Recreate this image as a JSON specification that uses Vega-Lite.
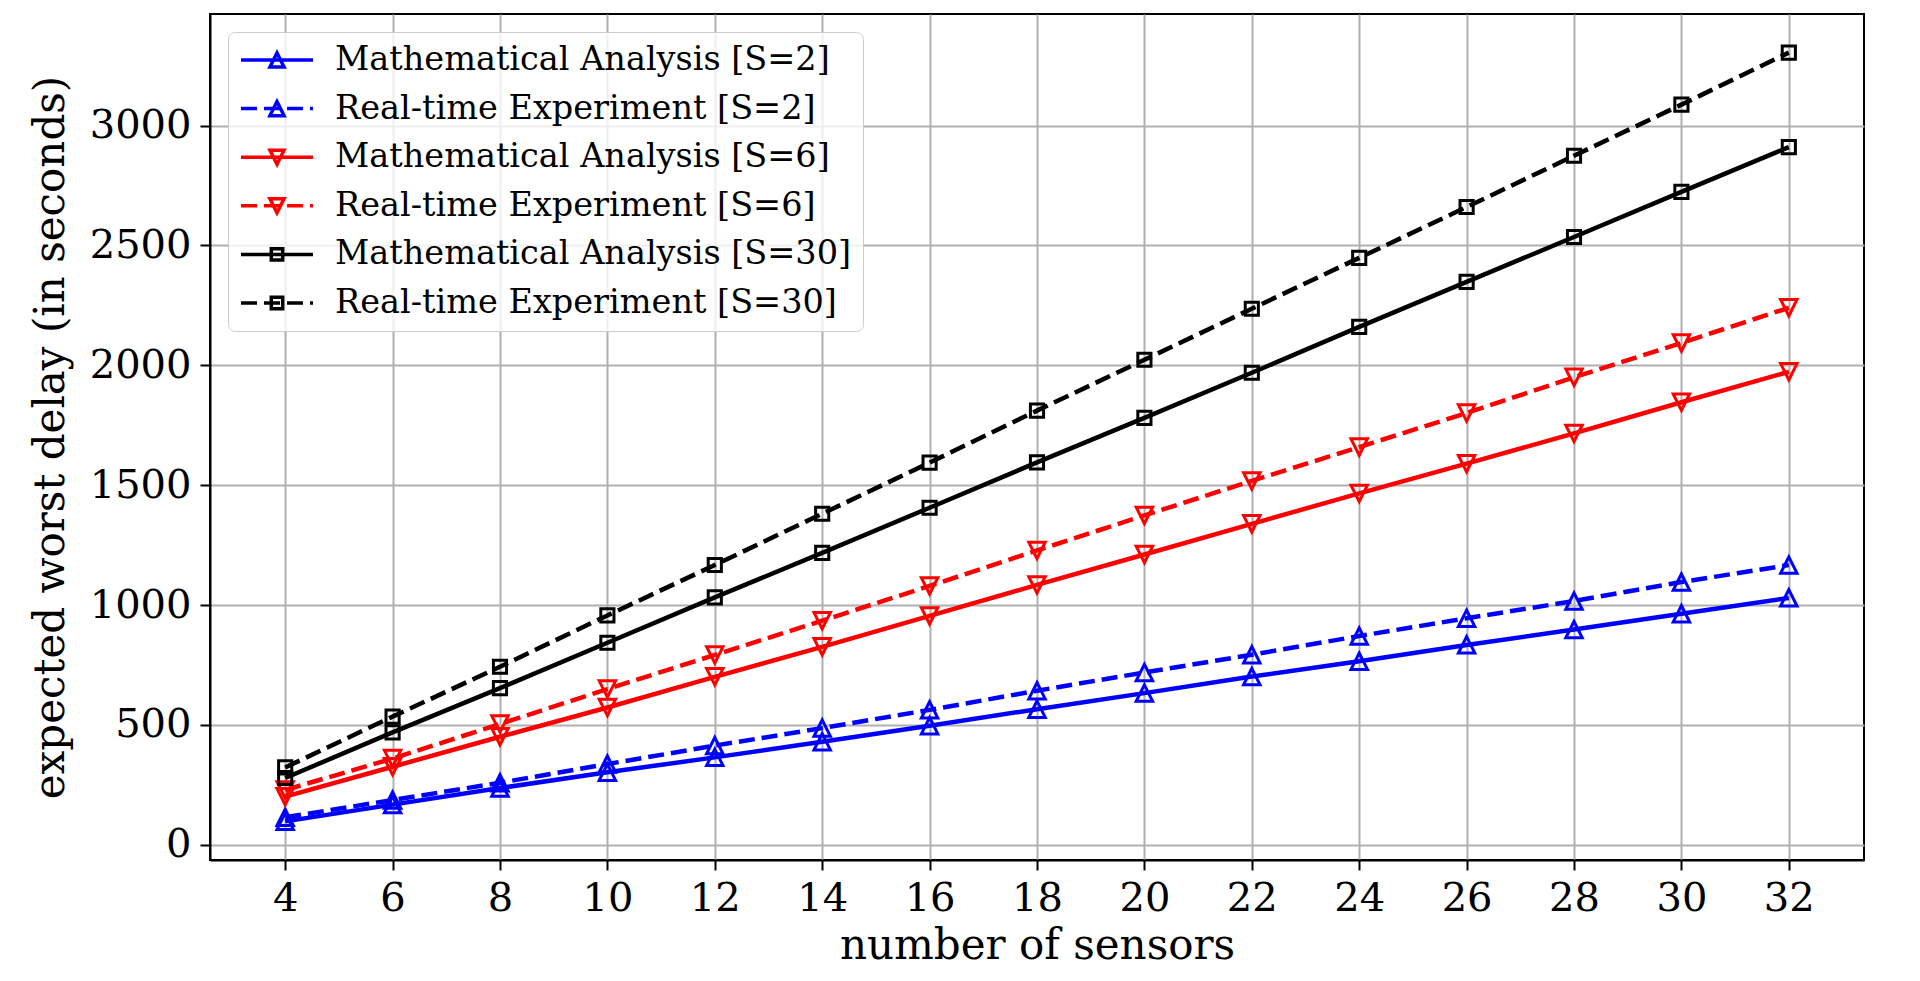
{
  "$schema": "https://vega.github.io/schema/vega-lite/v6.json",
  "autosize": {"type": "none"},
  "width": 1654,
  "height": 846,
  "padding": {"left": 210, "top": 14, "right": 56, "bottom": 121},
  "background": "white",
  "config": {
    "font": "DejaVu Serif",
    "view": {"stroke": "black", "strokeWidth": 2},
    "axis": {
      "labelFont": "DejaVu Serif",
      "labelFontSize": 40,
      "labelColor": "black",
      "titleFont": "DejaVu Serif",
      "titleFontSize": 42,
      "titleFontWeight": "normal",
      "titleColor": "black",
      "domainColor": "black",
      "domainWidth": 2,
      "tickColor": "black",
      "tickWidth": 2,
      "tickSize": 10,
      "gridColor": "#b0b0b0",
      "gridWidth": 2,
      "gridOpacity": 1
    },
    "legend": {
      "orient": "none",
      "legendX": 18,
      "legendY": 18,
      "direction": "vertical",
      "labelFont": "DejaVu Serif",
      "labelFontSize": 33.5,
      "labelColor": "black",
      "labelLimit": 0,
      "labelOffset": 62,
      "symbolSize": 900,
      "symbolStrokeWidth": 3.5,
      "symbolDash": [1, 0],
      "symbolOpacity": 1,
      "symbolFillColor": "transparent",
      "rowPadding": 14.6,
      "padding": 11,
      "fillColor": "rgba(255,255,255,0.8)",
      "strokeColor": "#cccccc",
      "cornerRadius": 7
    }
  },
  "data": {
    "values": [
      {"n": 4, "d": 98, "s": "Mathematical Analysis [S=2]"},
      {"n": 6, "d": 168, "s": "Mathematical Analysis [S=2]"},
      {"n": 8, "d": 237, "s": "Mathematical Analysis [S=2]"},
      {"n": 10, "d": 303, "s": "Mathematical Analysis [S=2]"},
      {"n": 12, "d": 365, "s": "Mathematical Analysis [S=2]"},
      {"n": 14, "d": 430, "s": "Mathematical Analysis [S=2]"},
      {"n": 16, "d": 497, "s": "Mathematical Analysis [S=2]"},
      {"n": 18, "d": 566, "s": "Mathematical Analysis [S=2]"},
      {"n": 20, "d": 633, "s": "Mathematical Analysis [S=2]"},
      {"n": 22, "d": 702, "s": "Mathematical Analysis [S=2]"},
      {"n": 24, "d": 766, "s": "Mathematical Analysis [S=2]"},
      {"n": 26, "d": 834, "s": "Mathematical Analysis [S=2]"},
      {"n": 28, "d": 898, "s": "Mathematical Analysis [S=2]"},
      {"n": 30, "d": 964, "s": "Mathematical Analysis [S=2]"},
      {"n": 32, "d": 1030, "s": "Mathematical Analysis [S=2]"},
      {"n": 4, "d": 115, "s": "Real-time Experiment [S=2]"},
      {"n": 6, "d": 187, "s": "Real-time Experiment [S=2]"},
      {"n": 8, "d": 259, "s": "Real-time Experiment [S=2]"},
      {"n": 10, "d": 337, "s": "Real-time Experiment [S=2]"},
      {"n": 12, "d": 414, "s": "Real-time Experiment [S=2]"},
      {"n": 14, "d": 487, "s": "Real-time Experiment [S=2]"},
      {"n": 16, "d": 563, "s": "Real-time Experiment [S=2]"},
      {"n": 18, "d": 643, "s": "Real-time Experiment [S=2]"},
      {"n": 20, "d": 719, "s": "Real-time Experiment [S=2]"},
      {"n": 22, "d": 793, "s": "Real-time Experiment [S=2]"},
      {"n": 24, "d": 871, "s": "Real-time Experiment [S=2]"},
      {"n": 26, "d": 945, "s": "Real-time Experiment [S=2]"},
      {"n": 28, "d": 1017, "s": "Real-time Experiment [S=2]"},
      {"n": 30, "d": 1096, "s": "Real-time Experiment [S=2]"},
      {"n": 32, "d": 1167, "s": "Real-time Experiment [S=2]"},
      {"n": 4, "d": 201, "s": "Mathematical Analysis [S=6]"},
      {"n": 6, "d": 326, "s": "Mathematical Analysis [S=6]"},
      {"n": 8, "d": 451, "s": "Mathematical Analysis [S=6]"},
      {"n": 10, "d": 573, "s": "Mathematical Analysis [S=6]"},
      {"n": 12, "d": 701, "s": "Mathematical Analysis [S=6]"},
      {"n": 14, "d": 826, "s": "Mathematical Analysis [S=6]"},
      {"n": 16, "d": 955, "s": "Mathematical Analysis [S=6]"},
      {"n": 18, "d": 1084, "s": "Mathematical Analysis [S=6]"},
      {"n": 20, "d": 1211, "s": "Mathematical Analysis [S=6]"},
      {"n": 22, "d": 1339, "s": "Mathematical Analysis [S=6]"},
      {"n": 24, "d": 1466, "s": "Mathematical Analysis [S=6]"},
      {"n": 26, "d": 1590, "s": "Mathematical Analysis [S=6]"},
      {"n": 28, "d": 1716, "s": "Mathematical Analysis [S=6]"},
      {"n": 30, "d": 1846, "s": "Mathematical Analysis [S=6]"},
      {"n": 32, "d": 1973, "s": "Mathematical Analysis [S=6]"},
      {"n": 4, "d": 229, "s": "Real-time Experiment [S=6]"},
      {"n": 6, "d": 360, "s": "Real-time Experiment [S=6]"},
      {"n": 8, "d": 504, "s": "Real-time Experiment [S=6]"},
      {"n": 10, "d": 650, "s": "Real-time Experiment [S=6]"},
      {"n": 12, "d": 792, "s": "Real-time Experiment [S=6]"},
      {"n": 14, "d": 935, "s": "Real-time Experiment [S=6]"},
      {"n": 16, "d": 1080, "s": "Real-time Experiment [S=6]"},
      {"n": 18, "d": 1228, "s": "Real-time Experiment [S=6]"},
      {"n": 20, "d": 1374, "s": "Real-time Experiment [S=6]"},
      {"n": 22, "d": 1518, "s": "Real-time Experiment [S=6]"},
      {"n": 24, "d": 1659, "s": "Real-time Experiment [S=6]"},
      {"n": 26, "d": 1801, "s": "Real-time Experiment [S=6]"},
      {"n": 28, "d": 1950, "s": "Real-time Experiment [S=6]"},
      {"n": 30, "d": 2093, "s": "Real-time Experiment [S=6]"},
      {"n": 32, "d": 2240, "s": "Real-time Experiment [S=6]"},
      {"n": 4, "d": 279, "s": "Mathematical Analysis [S=30]"},
      {"n": 6, "d": 469, "s": "Mathematical Analysis [S=30]"},
      {"n": 8, "d": 654, "s": "Mathematical Analysis [S=30]"},
      {"n": 10, "d": 843, "s": "Mathematical Analysis [S=30]"},
      {"n": 12, "d": 1032, "s": "Mathematical Analysis [S=30]"},
      {"n": 14, "d": 1218, "s": "Mathematical Analysis [S=30]"},
      {"n": 16, "d": 1406, "s": "Mathematical Analysis [S=30]"},
      {"n": 18, "d": 1595, "s": "Mathematical Analysis [S=30]"},
      {"n": 20, "d": 1781, "s": "Mathematical Analysis [S=30]"},
      {"n": 22, "d": 1969, "s": "Mathematical Analysis [S=30]"},
      {"n": 24, "d": 2160, "s": "Mathematical Analysis [S=30]"},
      {"n": 26, "d": 2348, "s": "Mathematical Analysis [S=30]"},
      {"n": 28, "d": 2535, "s": "Mathematical Analysis [S=30]"},
      {"n": 30, "d": 2723, "s": "Mathematical Analysis [S=30]"},
      {"n": 32, "d": 2910, "s": "Mathematical Analysis [S=30]"},
      {"n": 4, "d": 323, "s": "Real-time Experiment [S=30]"},
      {"n": 6, "d": 535, "s": "Real-time Experiment [S=30]"},
      {"n": 8, "d": 743, "s": "Real-time Experiment [S=30]"},
      {"n": 10, "d": 957, "s": "Real-time Experiment [S=30]"},
      {"n": 12, "d": 1167, "s": "Real-time Experiment [S=30]"},
      {"n": 14, "d": 1381, "s": "Real-time Experiment [S=30]"},
      {"n": 16, "d": 1594, "s": "Real-time Experiment [S=30]"},
      {"n": 18, "d": 1811, "s": "Real-time Experiment [S=30]"},
      {"n": 20, "d": 2023, "s": "Real-time Experiment [S=30]"},
      {"n": 22, "d": 2236, "s": "Real-time Experiment [S=30]"},
      {"n": 24, "d": 2448, "s": "Real-time Experiment [S=30]"},
      {"n": 26, "d": 2660, "s": "Real-time Experiment [S=30]"},
      {"n": 28, "d": 2874, "s": "Real-time Experiment [S=30]"},
      {"n": 30, "d": 3087, "s": "Real-time Experiment [S=30]"},
      {"n": 32, "d": 3304, "s": "Real-time Experiment [S=30]"}
    ]
  },
  "encoding": {
    "x": {
      "field": "n",
      "type": "quantitative",
      "scale": {"domain": [2.6, 33.4], "nice": false, "zero": false},
      "axis": {
        "title": "number of sensors",
        "values": [4, 6, 8, 10, 12, 14, 16, 18, 20, 22, 24, 26, 28, 30, 32],
        "labelPadding": 8,
        "titlePadding": 7
      }
    },
    "y": {
      "field": "d",
      "type": "quantitative",
      "scale": {"domain": [-63, 3465], "nice": false, "zero": false},
      "axis": {
        "title": "expected worst delay (in seconds)",
        "values": [0, 500, 1000, 1500, 2000, 2500, 3000],
        "format": "d",
        "labelPadding": 9,
        "titlePadding": 17
      }
    },
    "color": {
      "field": "s",
      "type": "nominal",
      "title": null,
      "scale": {
        "domain": [
          "Mathematical Analysis [S=2]",
          "Real-time Experiment [S=2]",
          "Mathematical Analysis [S=6]",
          "Real-time Experiment [S=6]",
          "Mathematical Analysis [S=30]",
          "Real-time Experiment [S=30]"
        ],
        "range": ["#0000ff", "#0000ff", "#ff0000", "#ff0000", "#000000", "#000000"]
      }
    }
  },
  "layer": [
    {
      "transform": [{"filter": {"field": "s", "oneOf": ["Mathematical Analysis [S=2]", "Mathematical Analysis [S=6]", "Mathematical Analysis [S=30]"]}}],
      "mark": {"type": "line", "strokeWidth": 4.5}
    },
    {
      "transform": [{"filter": {"field": "s", "oneOf": ["Real-time Experiment [S=2]", "Real-time Experiment [S=6]", "Real-time Experiment [S=30]"]}}],
      "mark": {"type": "line", "strokeWidth": 4.5, "strokeDash": [16, 7]}
    },
    {
      "transform": [{"filter": {"field": "s", "oneOf": ["Mathematical Analysis [S=2]", "Real-time Experiment [S=2]"]}}],
      "mark": {"type": "point", "shape": "M0,-1L1,1L-1,1Z", "filled": false, "strokeWidth": 3, "opacity": 1, "size": 270}
    },
    {
      "transform": [{"filter": {"field": "s", "oneOf": ["Mathematical Analysis [S=6]", "Real-time Experiment [S=6]"]}}],
      "mark": {"type": "point", "shape": "M0,1L1,-1L-1,-1Z", "filled": false, "strokeWidth": 3, "opacity": 1, "size": 270}
    },
    {
      "transform": [{"filter": {"field": "s", "oneOf": ["Mathematical Analysis [S=30]", "Real-time Experiment [S=30]"]}}],
      "mark": {"type": "point", "shape": "M-0.8,-0.8H0.8V0.8H-0.8Z", "filled": false, "strokeWidth": 3, "opacity": 1, "size": 270}
    },
    {
      "mark": {"type": "point", "filled": false, "strokeWidth": 3.5, "opacity": 1, "size": 0},
      "encoding": {
        "shape": {
          "field": "s",
          "type": "nominal",
          "title": null,
          "scale": {
            "domain": [
              "Mathematical Analysis [S=2]",
              "Real-time Experiment [S=2]",
              "Mathematical Analysis [S=6]",
              "Real-time Experiment [S=6]",
              "Mathematical Analysis [S=30]",
              "Real-time Experiment [S=30]"
            ],
            "range": [
              "M-1,0H3.8M1.4,-0.47L1.87,0.47L0.93,0.47Z",
              "M-1,0H0.07M0.53,0H1.6M2.07,0H3.13M3.6,0H3.8M1.4,-0.47L1.87,0.47L0.93,0.47Z",
              "M-1,0H3.8M1.4,0.47L1.87,-0.47L0.93,-0.47Z",
              "M-1,0H0.07M0.53,0H1.6M2.07,0H3.13M3.6,0H3.8M1.4,0.47L1.87,-0.47L0.93,-0.47Z",
              "M-1,0H3.8M1.02,-0.38H1.78V0.38H1.02Z",
              "M-1,0H0.07M0.53,0H1.6M2.07,0H3.13M3.6,0H3.8M1.02,-0.38H1.78V0.38H1.02Z"
            ]
          }
        }
      }
    }
  ]
}
